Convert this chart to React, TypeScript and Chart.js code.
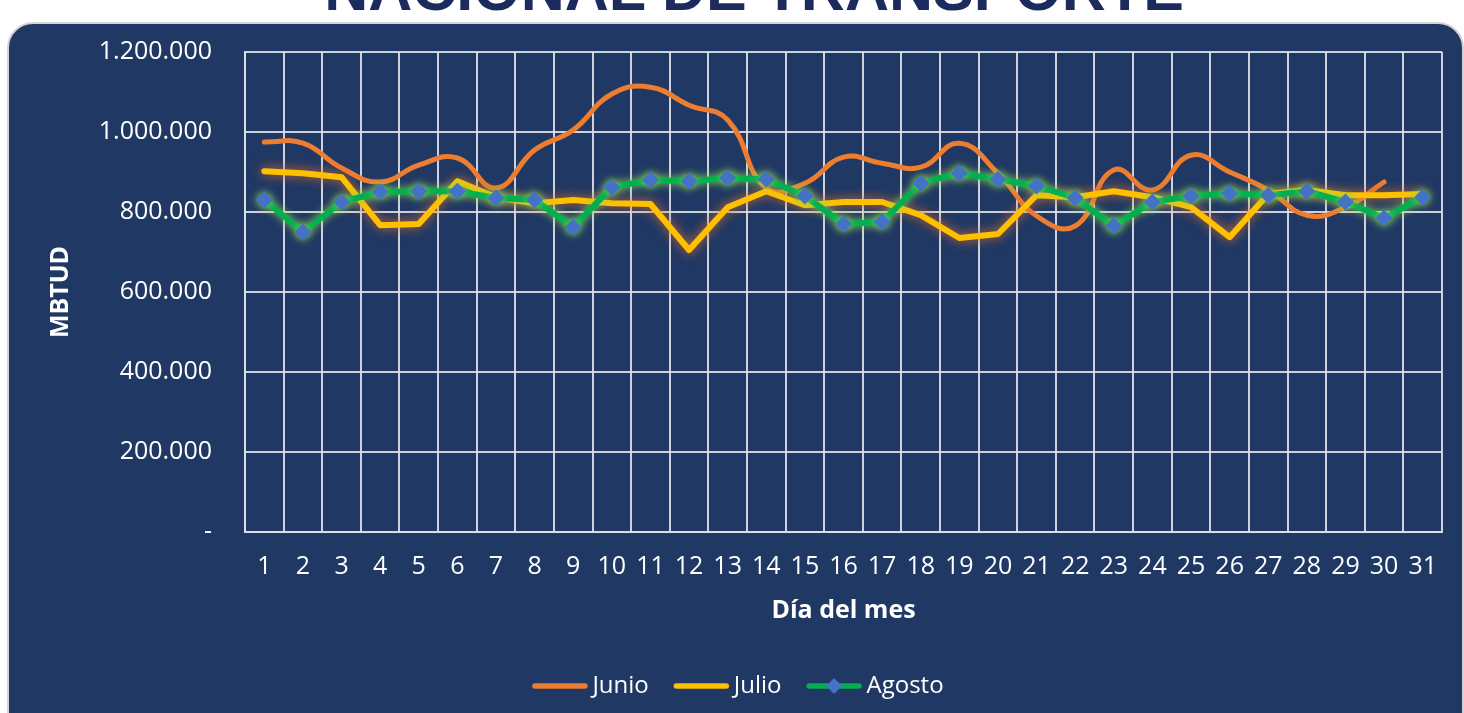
import React, { useEffect, useRef } from 'react';
import { Chart, registerables } from 'chart.js';

Chart.register(...registerables);

const days = ['1', '2', '3', '4', '5', '6', '7', '8', '9', '10', '11', '12', '13', '14', '15', '16', '17', '18', '19', '20', '21', '22', '23', '24', '25', '26', '27', '28', '29', '30', '31'];

const junio = [975000, 972000, 910000, 875000, 917000, 935000, 860000, 955000, 1005000, 1095000, 1112000, 1067000, 1030000, 860000, 872000, 937000, 922000, 912000, 972000, 897000, 790000, 765000, 905000, 855000, 942000, 900000, 855000, 792000, 812000, 875000];

const julio = [902000, 897000, 887000, 767000, 770000, 877000, 837000, 822000, 830000, 822000, 820000, 705000, 812000, 852000, 817000, 825000, 825000, 792000, 735000, 745000, 842000, 837000, 852000, 837000, 812000, 737000, 845000, 855000, 842000, 842000, 845000];

const agosto = [830000, 750000, 825000, 850000, 852000, 852000, 835000, 830000, 762000, 862000, 880000, 877000, 885000, 882000, 840000, 770000, 775000, 872000, 897000, 882000, 865000, 835000, 765000, 825000, 840000, 847000, 842000, 852000, 825000, 785000, 837000];

const yTickLabels = ['-', '200.000', '400.000', '600.000', '800.000', '1.000.000', '1.200.000'];

const FONT = "'Open Sans', sans-serif";
const GRID = 'rgba(222,224,230,0.92)';
const ORANGE = '#ED7D31';
const YELLOW = '#FFC000';
const GREEN = '#00B050';
const BLUE = '#4472C4';

function makeLegendImage(color: string, marker: boolean): HTMLCanvasElement {
  const c = document.createElement('canvas');
  c.width = 60;
  c.height = 20;
  const ctx = c.getContext('2d')!;
  ctx.strokeStyle = color;
  ctx.lineWidth = 5.5;
  ctx.lineCap = 'round';
  ctx.beginPath();
  ctx.moveTo(4.5, 10);
  ctx.lineTo(54.5, 10);
  ctx.stroke();
  if (marker) {
    ctx.fillStyle = BLUE;
    ctx.beginPath();
    ctx.moveTo(29.5, 2);
    ctx.lineTo(37.5, 10);
    ctx.lineTo(29.5, 18);
    ctx.lineTo(21.5, 10);
    ctx.closePath();
    ctx.fill();
  }
  return c;
}

const glowPlugin = {
  id: 'glow',
  beforeDatasetDraw(chart: any, args: any) {
    const ds = chart.data.datasets[args.index];
    const ctx = chart.ctx;
    ctx.save();
    if (ds.glowColor) {
      ctx.shadowColor = ds.glowColor;
      ctx.shadowBlur = ds.glowBlur || 8;
    }
  },
  afterDatasetDraw(chart: any) {
    chart.ctx.restore();
  },
};

const legendShift = {
  id: 'legendShift',
  afterLayout(chart: any) {
    if (chart.legend) {
      chart.legend.top -= 5;
      chart.legend.bottom -= 5;
    }
  },
};

export default function App() {
  const ref = useRef<HTMLCanvasElement | null>(null);

  useEffect(() => {
    if (!ref.current) return;
    const legendImgs = [
      makeLegendImage(ORANGE, false),
      makeLegendImage(YELLOW, false),
      makeLegendImage(GREEN, true),
    ];
    const chart = new Chart(ref.current, {
      type: 'line',
      data: {
        labels: days,
        datasets: [
          {
            label: 'Junio',
            data: junio,
            borderColor: ORANGE,
            backgroundColor: ORANGE,
            borderWidth: 5,
            tension: 0.45,
            pointRadius: 0,
            borderCapStyle: 'round',
            borderJoinStyle: 'round',
            order: 3,
          } as any,
          {
            label: 'Julio',
            data: julio,
            borderColor: YELLOW,
            backgroundColor: YELLOW,
            borderWidth: 6,
            tension: 0,
            pointRadius: 0,
            borderCapStyle: 'round',
            borderJoinStyle: 'round',
            glowColor: 'rgba(214,110,40,1)',
            glowBlur: 11,
            order: 2,
          } as any,
          {
            label: 'Agosto',
            data: agosto,
            borderColor: GREEN,
            backgroundColor: BLUE,
            borderWidth: 6,
            tension: 0,
            pointStyle: 'rectRot',
            pointRadius: 8.5,
            pointBorderWidth: 0,
            pointBackgroundColor: BLUE,
            borderCapStyle: 'round',
            borderJoinStyle: 'round',
            glowColor: 'rgba(140,215,80,1)',
            glowBlur: 9,
            order: 1,
          } as any,
        ],
      },
      options: {
        responsive: false,
        animation: false,
        devicePixelRatio: 1,
        layout: { padding: { top: 52, left: 42, right: 22, bottom: 0 } },
        scales: {
          x: {
            type: 'category',
            offset: true,
            grid: { offset: true, color: GRID, lineWidth: 2, drawTicks: false },
            border: { color: GRID, width: 2 },
            ticks: {
              color: '#FFFFFF',
              font: { family: FONT, size: 25 },
              padding: 20,
              maxRotation: 0,
              autoSkip: false,
            },
            title: {
              display: true,
              text: 'Día del mes',
              color: '#FFFFFF',
              font: { family: FONT, size: 25, weight: 'bold' },
              padding: { top: 4, bottom: 20 },
            },
            afterFit(s: any) {
              s.height = 114;
            },
          },
          y: {
            min: 0,
            max: 1200000,
            grid: { color: GRID, lineWidth: 2, drawTicks: false },
            border: { color: GRID, width: 2 },
            ticks: {
              stepSize: 200000,
              color: '#FFFFFF',
              font: { family: FONT, size: 25 },
              padding: 33,
              callback: (_v: any, i: number) => yTickLabels[i],
            },
            title: {
              display: true,
              text: 'MBTUD',
              color: '#FFFFFF',
              font: { family: FONT, size: 25, weight: 'bold' },
              padding: { top: 4, bottom: 4 },
            },
            afterFit(s: any) {
              s.width = 203;
            },
          },
        },
        plugins: {
          legend: {
            position: 'bottom',
            labels: {
              usePointStyle: true,
              pointStyleWidth: 40,
              padding: 33,
              color: '#FFFFFF',
              font: { family: FONT, size: 24 },
              sort: (a: any, b: any) => a.datasetIndex - b.datasetIndex,
              generateLabels: (ch: any) => {
                const items = (Chart.defaults.plugins.legend.labels as any).generateLabels(ch);
                return items.map((it: any) => ({
                  ...it,
                  pointStyle: legendImgs[it.datasetIndex],
                  rotation: 0,
                }));
              },
            },
          },
          tooltip: { enabled: false },
        },
      } as any,
      plugins: [glowPlugin, legendShift],
    });
    return () => chart.destroy();
  }, []);

  return (
    <div>
      <div
        style={{
          position: 'fixed',
          left: 22,
          top: -41,
          width: 1464,
          textAlign: 'center',
          fontFamily: "'Liberation Sans', Arial, sans-serif",
          fontWeight: 'bold',
          fontSize: 61,
          lineHeight: '61px',
          color: '#1B2B5E',
          whiteSpace: 'nowrap',
        }}
      >
        NACIONAL DE TRANSPORTE
      </div>
      <div
        style={{
          position: 'fixed',
          left: 7,
          top: 22,
          width: 1457,
          height: 720,
          boxSizing: 'border-box',
          border: '2px solid #D3D3D3',
          borderRadius: 26,
          background: '#203864',
        }}
      />
      <canvas
        ref={ref}
        width={1464}
        height={713}
        style={{ position: 'fixed', left: 0, top: 0, width: 1464, height: 713 }}
      />
    </div>
  );
}
